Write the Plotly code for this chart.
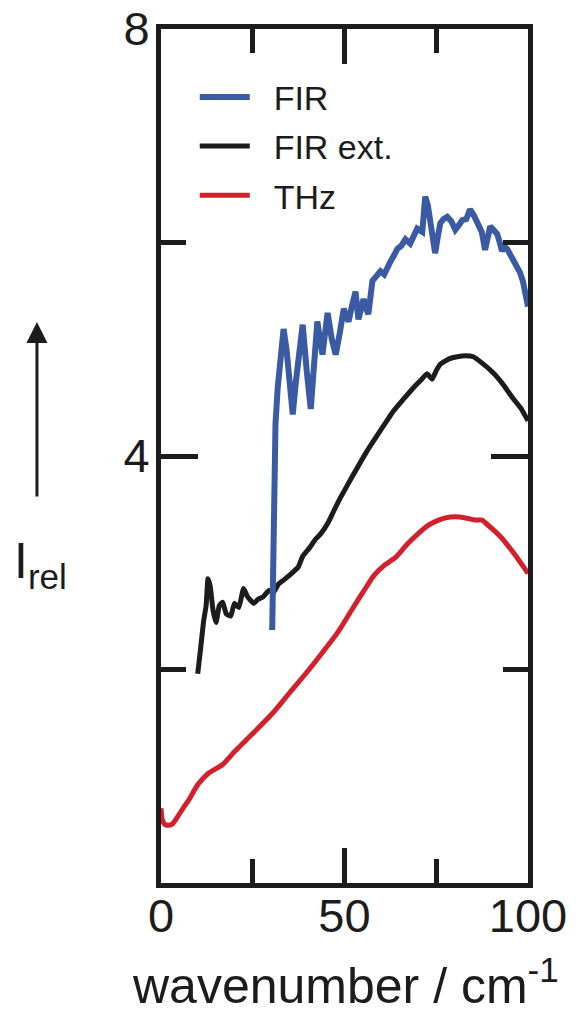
import plotly.graph_objects as go

# ---- data ----
fir_x = [30.3, 30.6, 31.2, 31.8, 32.5, 33.4, 34.2, 35.0, 35.9, 36.7, 37.6, 38.6, 39.7, 40.8, 41.7,
         42.6, 43.3, 44.0, 44.7, 45.4, 46.5, 47.6, 48.7, 49.8, 50.5, 51.1, 52.0, 53.0, 53.8, 54.5,
         55.2, 55.9, 56.5, 57.6, 58.7, 59.8, 60.8, 61.7, 62.5, 63.5, 64.4, 65.5, 66.6, 67.9, 68.9,
         69.8, 71.2, 72.0, 72.7, 73.4, 74.7, 75.4, 76.1, 77.0, 78.0, 79.1, 80.2, 81.1, 82.1, 83.2,
         84.2, 85.3, 86.4, 87.4, 88.3, 89.0, 89.7, 90.6, 91.6, 92.3, 92.9, 93.6, 94.3, 95.6, 97.0,
         97.8, 98.6, 99.2, 99.7, 100.0]
fir_y = [2.37, 3.20, 4.30, 4.64, 4.85, 5.19, 5.00, 4.65, 4.39, 4.68, 4.95, 5.23, 4.80, 4.44, 4.85,
         5.26, 5.10, 4.95, 5.15, 5.34, 5.10, 4.95, 5.15, 5.38, 5.30, 5.26, 5.40, 5.54, 5.28, 5.40,
         5.47, 5.38, 5.33, 5.64, 5.68, 5.73, 5.70, 5.75, 5.82, 5.88, 5.94, 5.97, 6.03, 5.99, 6.08,
         6.13, 6.10, 6.43, 6.35, 6.17, 5.90, 6.05, 6.18, 6.22, 6.24, 6.20, 6.12, 6.16, 6.21, 6.22,
         6.31, 6.25, 6.18, 6.10, 5.93, 6.05, 6.15, 6.12, 6.08, 6.00, 5.92, 5.96, 5.94, 5.86, 5.78,
         5.72, 5.64, 5.56, 5.45, 5.40]

ext_x = [10.0, 10.8, 11.6, 12.3, 12.8, 13.4, 14.2, 15.0, 15.9, 16.8, 17.8, 19.0, 20.0, 21.2, 22.5,
         23.6, 25.3, 26.5, 27.8, 29.4, 30.6, 32.0, 33.5, 35.9, 37.4, 38.6, 40.5, 42.1, 43.5, 45.6,
         47.0, 48.9, 52.0, 56.2, 60.0, 63.3, 66.0, 68.8, 70.8, 72.5, 73.9, 75.0, 76.1, 78.5, 80.7,
         83.0, 85.1, 87.5, 90.5, 93.0, 95.9, 98.0, 100.0]
ext_y = [1.96, 2.20, 2.45, 2.60, 2.85, 2.78, 2.55, 2.44, 2.60, 2.63, 2.52, 2.50, 2.62, 2.58, 2.76,
         2.68, 2.62, 2.66, 2.68, 2.74, 2.72, 2.80, 2.84, 2.91, 2.96, 3.06, 3.14, 3.22, 3.27, 3.38,
         3.48, 3.61, 3.80, 4.05, 4.25, 4.42, 4.53, 4.64, 4.71, 4.77, 4.72, 4.80, 4.86, 4.91, 4.93,
         4.94, 4.93, 4.87, 4.78, 4.68, 4.54, 4.45, 4.33]

thz_x = [0.0, 0.3, 1.0, 2.0, 3.0, 4.5, 6.0, 7.6, 10.0, 13.0, 16.8, 20.0, 25.0, 30.4, 35.0, 39.4,
         44.0, 48.4, 52.0, 55.7, 58.0, 61.0, 63.9, 67.0, 70.0, 72.8, 75.0, 77.5, 80.2, 83.0, 85.5,
         87.5, 88.5, 90.5, 92.9, 95.0, 97.0, 99.2, 100.0]
thz_y = [0.70, 0.60, 0.55, 0.54, 0.55, 0.62, 0.70, 0.78, 0.92, 1.03, 1.11, 1.23, 1.40, 1.59, 1.78,
         1.96, 2.16, 2.36, 2.56, 2.76, 2.88, 2.98, 3.05, 3.17, 3.27, 3.35, 3.39, 3.42, 3.43, 3.42,
         3.40, 3.40, 3.37, 3.31, 3.23, 3.14, 3.05, 2.94, 2.90]

x_tickvals = [0, 50, 100]
x_ticktext = ["0", "50", "100"]
y_tickvals = [0, 4, 8]
y_ticktext = ["", "4", "8"]

BLUE = "#3a5aa4"
BLACK = "#1c1c1c"
RED = "#d41f2c"
FONT = "Liberation Sans, Arial, sans-serif"
NB = "\u00a0\u00a0"

fig = go.Figure()
fig.add_trace(go.Scatter(x=ext_x, y=ext_y, mode="lines", name=NB + "FIR ext.",
                         line=dict(color=BLACK, width=5, shape="spline", smoothing=0.4),
                         legendrank=2, legendgroup="b"))
fig.add_trace(go.Scatter(x=fir_x, y=fir_y, mode="lines", name=NB + "FIR",
                         line=dict(color=BLUE, width=6), legendrank=1, legendgroup="a"))
fig.add_trace(go.Scatter(x=thz_x, y=thz_y, mode="lines", name=NB + "THz",
                         line=dict(color=RED, width=5, shape="spline", smoothing=0.6),
                         legendrank=3, legendgroup="c"))

axis_common = dict(showline=True, linewidth=5, linecolor=BLACK, mirror="ticks",
                   ticks="inside", tickwidth=5, tickcolor=BLACK, showgrid=False,
                   zeroline=False, automargin=False, ticklabeloverflow="allow",
                   tickfont=dict(family=FONT, size=47, color=BLACK))

fig.update_xaxes(range=[0, 100], tickmode="array", tickvals=x_tickvals, ticktext=x_ticktext,
                 ticklen=35, ticklabelstandoff=-12,
                 minor=dict(tick0=0, dtick=25, ticklen=24, tickwidth=5,
                            tickcolor=BLACK, ticks="inside", showgrid=False),
                 **axis_common)
fig.update_yaxes(range=[0, 8], tickmode="array", tickvals=y_tickvals, ticktext=y_ticktext,
                 ticklen=37, ticklabelstandoff=-3,
                 minor=dict(tick0=0, dtick=2, ticklen=25, tickwidth=5,
                            tickcolor=BLACK, ticks="inside", showgrid=False),
                 **axis_common)

fig.update_layout(
    width=571, height=1003,
    margin=dict(l=153, r=51, t=21, b=128),
    paper_bgcolor="white", plot_bgcolor="white",
    showlegend=True,
    legend=dict(x=0.092, y=0.954, xanchor="left", yanchor="top",
                bgcolor="rgba(0,0,0,0)", font=dict(family=FONT, size=34, color=BLACK),
                itemwidth=50, tracegroupgap=2),
    annotations=[
        dict(text="wavenumber / cm<sup>-1</sup>", xref="paper", yref="paper",
             x=0.502, y=-0.116, xanchor="center", yanchor="middle", showarrow=False,
             font=dict(family=FONT, size=50, color=BLACK)),
        dict(text="I<sub>rel</sub>", xref="paper", yref="paper",
             x=-0.406, y=0.3735, xanchor="left", yanchor="middle", showarrow=False,
             font=dict(family=FONT, size=50, color=BLACK)),
        dict(text="", xref="paper", yref="paper", x=-0.338, y=0.657,
             ax=0, ay=176, axref="pixel", ayref="pixel", showarrow=True,
             arrowhead=2, arrowsize=1.4, arrowwidth=3, arrowcolor=BLACK),
    ],
)

fig.write_html("out.html")
